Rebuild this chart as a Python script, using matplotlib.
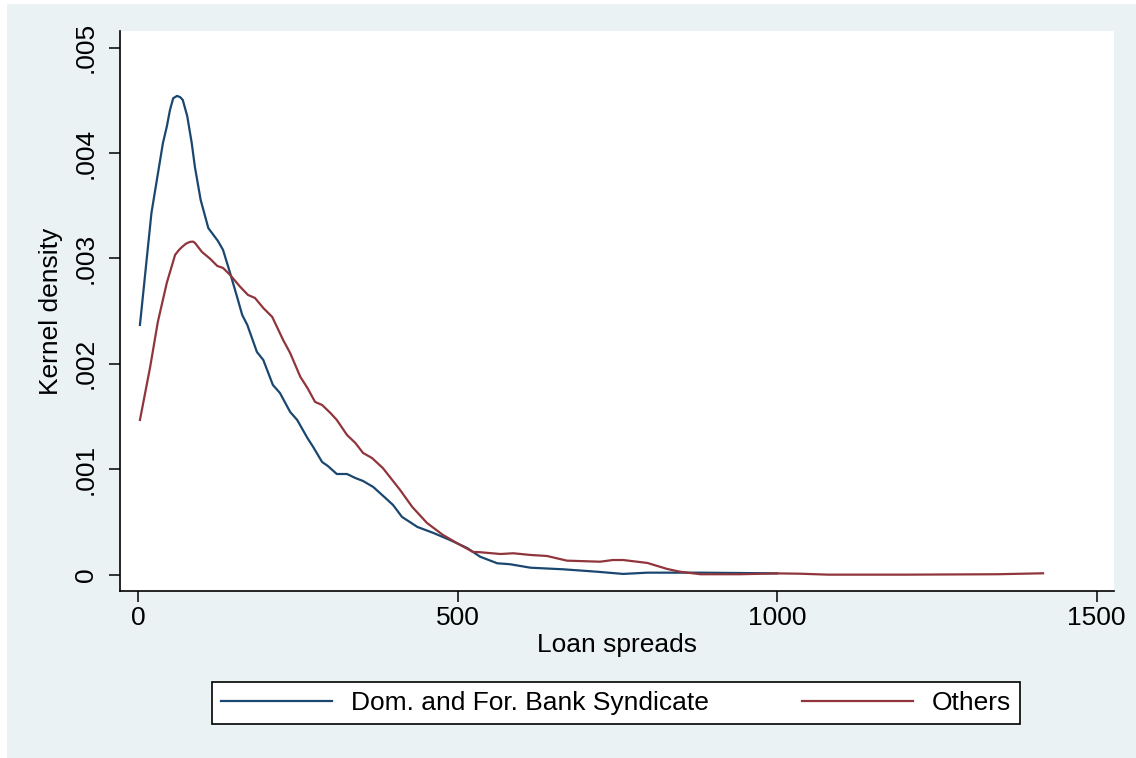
import numpy as np
import matplotlib
matplotlib.use("Agg")
from matplotlib import pyplot as plt
from matplotlib.patches import Rectangle

# kernel density (density in units of 1e-3)
syndicate_spread = [3, 21, 39, 45, 50, 55, 61, 66, 70, 77, 84, 89, 98, 110, 125, 133, 144,
                    155, 163, 171, 186, 196, 211, 222, 238, 249, 265, 274, 288, 297, 311,
                    327, 340, 352, 368, 387, 399, 413, 437, 462, 488, 515, 535, 562, 582,
                    614, 665, 718, 759, 797, 880, 989, 1000]
syndicate_density = [2.369, 3.432, 4.096, 4.250, 4.409, 4.520, 4.542, 4.530, 4.504, 4.350,
                     4.096, 3.868, 3.555, 3.288, 3.166, 3.081, 2.863, 2.635, 2.464, 2.369,
                     2.113, 2.037, 1.800, 1.724, 1.544, 1.468, 1.297, 1.212, 1.069, 1.031,
                     0.955, 0.955, 0.917, 0.889, 0.832, 0.728, 0.661, 0.548, 0.453, 0.396,
                     0.329, 0.253, 0.171, 0.108, 0.099, 0.066, 0.051, 0.028, 0.007, 0.019,
                     0.019, 0.013, 0.012]

others_spread = [3, 19, 31, 45, 58, 64, 69, 75, 81, 86, 89, 100, 113, 124, 133, 144, 160,
                 172, 183, 196, 210, 227, 238, 254, 265, 277, 288, 301, 311, 327, 340,
                 352, 366, 383, 410, 429, 452, 477, 504, 524, 535, 567, 587, 614, 640,
                 671, 723, 743, 759, 797, 828, 848, 880, 942, 1000, 1036, 1080, 1200,
                 1344, 1416]
others_density = [1.468, 1.971, 2.398, 2.768, 3.034, 3.080, 3.110, 3.140, 3.157, 3.160,
                  3.148, 3.062, 2.996, 2.929, 2.910, 2.844, 2.730, 2.654, 2.625, 2.530,
                  2.445, 2.227, 2.103, 1.876, 1.772, 1.639, 1.610, 1.534, 1.468, 1.325,
                  1.250, 1.155, 1.107, 1.012, 0.804, 0.643, 0.491, 0.377, 0.282, 0.216,
                  0.213, 0.196, 0.203, 0.187, 0.177, 0.133, 0.123, 0.139, 0.139, 0.111,
                  0.054, 0.028, 0.004, 0.004, 0.012, 0.009, 0.0, 0.0, 0.004, 0.013]

x_ticks = [0, 500, 1000, 1500]
y_ticks = [0, 0.001, 0.002, 0.003, 0.004, 0.005]
y_tick_labels = ["0", ".001", ".002", ".003", ".004", ".005"]
series_labels = ["Dom. and For. Bank Syndicate", "Others"]

NAVY = "#1a476f"
MAROON = "#90353b"
BG = "#eaf2f3"
FONT = 19

plt.rcParams["font.family"] = ["Liberation Sans", "DejaVu Sans"]

fig = plt.figure(figsize=(11.36, 7.58), dpi=100)
fig.patch.set_facecolor("white")
fig.patches.append(Rectangle((7 / 1136, 0), 1 - 7 / 1136, 754 / 758,
                             transform=fig.transFigure, facecolor=BG,
                             edgecolor="none", zorder=-10))

ax = fig.add_axes([120 / 1136, 167 / 758, 994 / 1136, 560 / 758])
ax.set_facecolor("white")

ax.plot(syndicate_spread, np.array(syndicate_density) * 1e-3, color=NAVY, lw=1.6,
        label=series_labels[0])
ax.plot(others_spread, np.array(others_density) * 1e-3, color=MAROON, lw=1.6,
        label=series_labels[1])

ax.set_xlim(-28.2, 1527)
ax.set_ylim(-0.000155, 0.005158)
ax.set_xticks(x_ticks)
ax.set_yticks(y_ticks)
ax.set_yticklabels(y_tick_labels)

for side in ("top", "right"):
    ax.spines[side].set_visible(False)
for side in ("left", "bottom"):
    ax.spines[side].set_linewidth(1.2)
    ax.spines[side].set_color("black")

ax.tick_params(axis="both", length=8, width=1.1, labelsize=FONT, color="black")
ax.tick_params(axis="x", pad=3)
ax.tick_params(axis="y", pad=8, labelrotation=90)
for lbl in ax.get_yticklabels():
    lbl.set_va("center")

ax.set_xlabel("Loan spreads", fontsize=FONT, labelpad=2)
ax.set_ylabel("Kernel density", fontsize=FONT, labelpad=8)

leg = fig.legend(loc="lower left", ncol=2, mode="expand",
                 bbox_to_anchor=(212 / 1136, 34 / 758, 808 / 1136, 47 / 758),
                 fontsize=FONT, frameon=True, fancybox=False, framealpha=1.0,
                 handlelength=4.2, handletextpad=0.7, borderpad=0.35,
                 borderaxespad=0.0, columnspacing=2.0)
leg.get_frame().set_edgecolor("black")
leg.get_frame().set_facecolor("white")
leg.get_frame().set_linewidth(1.2)
for line in leg.get_lines():
    line.set_linewidth(1.6)

fig.savefig("out.png", dpi=100, facecolor=fig.get_facecolor())
